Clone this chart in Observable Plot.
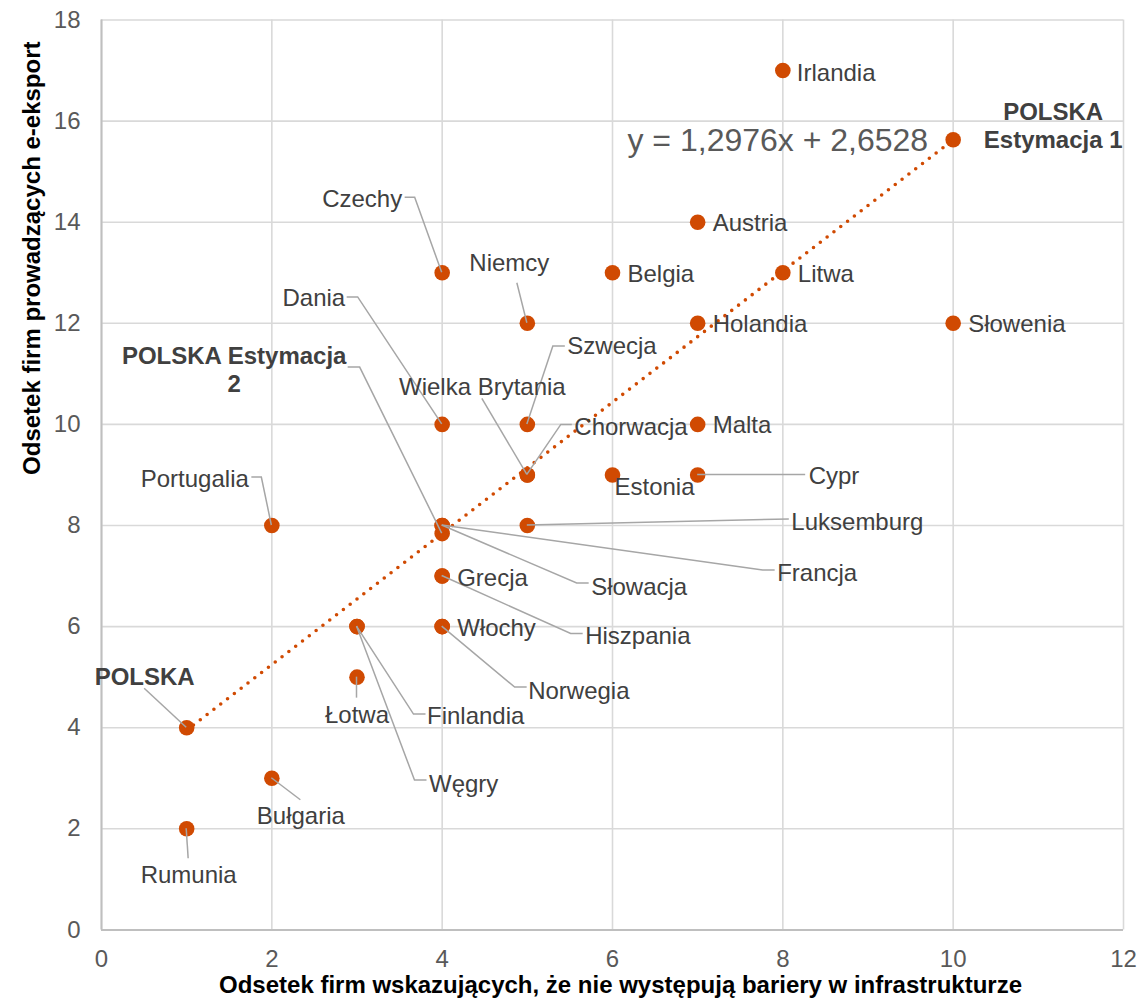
<!DOCTYPE html>
<html><head><meta charset="utf-8">
<script src="https://cdn.jsdelivr.net/npm/d3@7"></script>
<script src="https://cdn.jsdelivr.net/npm/@observablehq/plot@0.6"></script>
<style>html,body{margin:0;padding:0;background:#fff}</style>
</head><body><div id="chart"></div>
<script>
// ---- data ----
const names = ["Irlandia","POLSKA\nEstymacja 1","Czechy","Niemcy","Belgia","Austria","Litwa","Holandia","Słowenia","Dania","POLSKA Estymacja\n2","Szwecja","Wielka Brytania","Chorwacja","Malta","Estonia","Cypr","Luksemburg","Francja","Słowacja","Grecja","Hiszpania","Włochy","Norwegia","Finlandia","Węgry","Łotwa","Portugalia","POLSKA","Bułgaria","Rumunia"];
const xValues = [8,10,4,5,6,7,8,7,10,4,4,5,5,5,7,6,7,5,4,4,4,4,4,4,3,3,3,2,1,2,1];
const yValues = [17,15.63,13,12,13,14,13,12,12,10,7.84,10,9,9,10,9,9,8,8,8,7,7,6,6,6,6,5,8,4,3,2];
const boldNames = ["POLSKA\nEstymacja 1","POLSKA Estymacja\n2","POLSKA"];
const trendSlope = 1.2976;
const trendIntercept = 2.6528;
const trendRange = [1, 10];
const equationText = "y = 1,2976x + 2,6528";
const xTicks = [0,2,4,6,8,10,12];
const yTicks = [0,2,4,6,8,10,12,14,16,18];
const xTitle = "Odsetek firm wskazujących, że nie występują bariery w infrastrukturze";
const yTitle = "Odsetek firm prowadzących e-eksport";

// ---- label layout (pixel offsets from each point) ----
const labelLayout = [
  {dx:14, dy:1, a:"start"},
  {dx:100, dy:-15, a:"middle"},
  {dx:-40, dy:-75, a:"end", l:[[-27,-75],[-37,-75]]},
  {dx:-18, dy:-61, a:"middle", l:[[-10,-40]]},
  {dx:15, dy:0, a:"start"},
  {dx:15, dy:0, a:"start"},
  {dx:15, dy:0, a:"start"},
  {dx:15, dy:0, a:"start"},
  {dx:15, dy:0, a:"start"},
  {dx:-97, dy:-127, a:"end", l:[[-84,-127],[-95,-127]]},
  {dx:-208, dy:-165, a:"middle", l:[[-82,-166],[-94,-166]]},
  {dx:40, dy:-79, a:"start", l:[[26,-78],[38,-78]]},
  {dx:-45, dy:-89, a:"middle", l:[[-45,-76]]},
  {dx:47, dy:-49, a:"start", l:[[34,-50],[45,-50]]},
  {dx:15, dy:0, a:"start"},
  {dx:2, dy:11, a:"start"},
  {dx:111, dy:0, a:"start", l:[[108,0]]},
  {dx:264, dy:-5, a:"start", l:[[262,-6]]},
  {dx:335, dy:46, a:"start", l:[[321,45],[333,45]]},
  {dx:149, dy:60, a:"start", l:[[135,58],[147,58]]},
  {dx:15, dy:1, a:"start"},
  {dx:143, dy:59, a:"start", l:[[129,58],[141,58]]},
  {dx:15, dy:0, a:"start"},
  {dx:86, dy:63, a:"start", l:[[73,61],[85,61]]},
  {dx:70, dy:88, a:"start", l:[[57,88],[69,88]]},
  {dx:72, dy:156, a:"start", l:[[58,154],[70,154]]},
  {dx:0, dy:37, a:"middle", l:[[0,21]]},
  {dx:-23, dy:-48, a:"end", l:[[-10,-48],[-20,-48]]},
  {dx:-42, dy:-52, a:"middle", l:[[-42,-39]]},
  {dx:29, dy:37, a:"middle", l:[[29,22]]},
  {dx:2, dy:45, a:"middle", l:[[2,30]]}
];

const ORANGE = "#d04a02";
const idx = names.map((_, i) => i);
const trendData = trendRange.map(x => ({x, y: trendSlope * x + trendIntercept}));

function leaders(index, scales) {
  const g = document.createElementNS("http://www.w3.org/2000/svg", "g");
  idx.forEach(i => {
    const L = labelLayout[i].l;
    if (!L) return;
    const px = scales.x(xValues[i]), py = scales.y(yValues[i]);
    const pts = [[px, py], ...L.map(([ox, oy]) => [px + ox, py + oy])];
    const p = document.createElementNS("http://www.w3.org/2000/svg", "path");
    p.setAttribute("d", "M" + pts.map(q => q.join(",")).join("L"));
    p.setAttribute("fill", "none");
    p.setAttribute("stroke", "#a6a6a6");
    p.setAttribute("stroke-width", "1.5");
    g.appendChild(p);
  });
  return g;
}

const labelMarks = idx.map(i => Plot.text([i], {
  x: d => xValues[d], y: d => yValues[d], text: d => names[d],
  dx: labelLayout[i].dx, dy: labelLayout[i].dy,
  textAnchor: labelLayout[i].a,
  fontWeight: boldNames.includes(names[i]) ? "bold" : "normal",
  fill: "#404040", fontSize: 24, lineHeight: 1.17
}));

const chart = Plot.plot({
  width: 1140, height: 1005,
  marginLeft: 101, marginRight: 17, marginTop: 19.5, marginBottom: 75.6,
  x: {domain: [0, 12], axis: null},
  y: {domain: [0, 18], axis: null},
  style: {fontFamily: "'Liberation Sans', Arial, sans-serif", fontSize: "24px", background: "#fff", overflow: "visible"},
  marks: [
    Plot.gridX(xTicks, {stroke: "#d9d9d9", strokeOpacity: 1, strokeWidth: 1.6}),
    Plot.gridY(yTicks, {stroke: "#d9d9d9", strokeOpacity: 1, strokeWidth: 1.6}),
    Plot.ruleX([0], {stroke: "#bfbfbf", strokeWidth: 2}),
    Plot.ruleY([0], {stroke: "#bfbfbf", strokeWidth: 2}),
    Plot.axisX(xTicks, {tickSize: 0, tickPadding: 20, fill: "#595959", fontSize: 24, tickFormat: d3.format("d"), label: null}),
    Plot.axisY(yTicks, {tickSize: 0, tickPadding: 21, fill: "#595959", fontSize: 24, tickFormat: d3.format("d"), label: null}),
    Plot.dot(idx, {x: i => xValues[i], y: i => yValues[i], r: 7.8, fill: ORANGE, stroke: "none"}),
    Plot.line(trendData, {x: "x", y: "y", stroke: ORANGE, strokeWidth: 3.6, strokeDasharray: "0 8.6", strokeLinecap: "round"}),
    leaders,
    ...labelMarks,
    Plot.text([equationText], {x: trendRange[1], y: trendSlope * trendRange[1] + trendIntercept, text: d => d, dx: -25, dy: 1, textAnchor: "end", fontSize: 32, fill: "#595959"}),
    Plot.text([xTitle], {frameAnchor: "bottom", text: d => d, dx: 8, dy: 63.5, fontWeight: "bold", fontSize: 24, fill: "#000"}),
    Plot.text([yTitle], {frameAnchor: "left", text: d => d, dx: -69, rotate: -90, fontWeight: "bold", fontSize: 24, fill: "#000"})
  ]
});
document.getElementById("chart").appendChild(chart);
</script>
</body></html>
